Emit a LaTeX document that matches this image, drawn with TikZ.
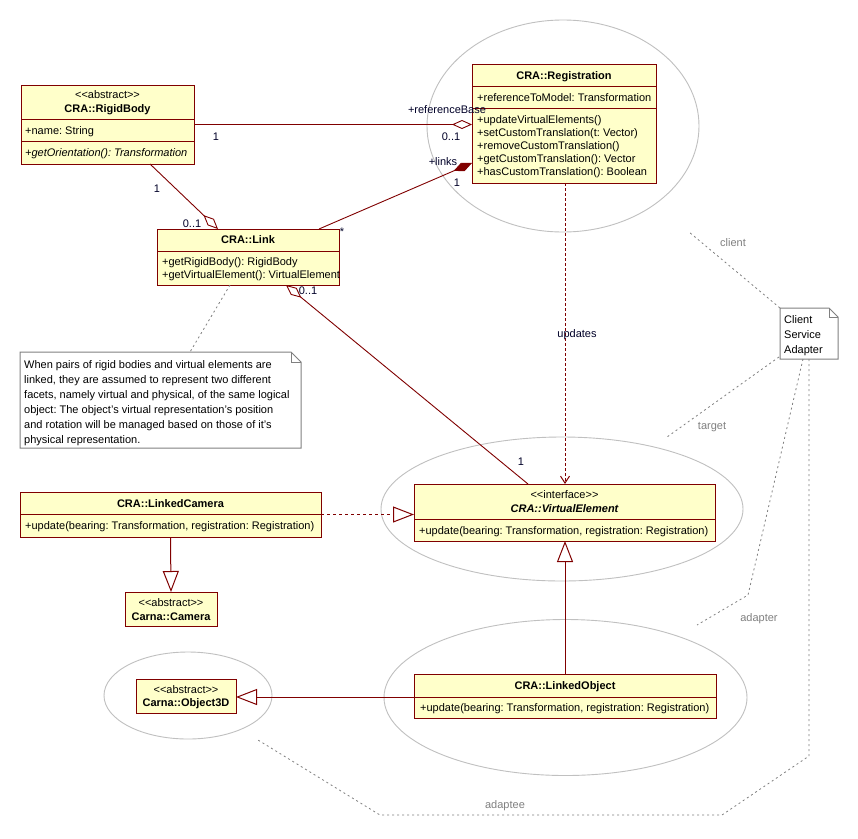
\documentclass[tikz,border=0pt]{standalone}
\usepackage{fontspec}
\setmainfont{Liberation Sans}
\usetikzlibrary{arrows.meta,calc}
\definecolor{umlred}{RGB}{128,0,0}
\definecolor{umlfill}{RGB}{255,255,202}
\definecolor{ellgrey}{RGB}{192,192,192}
\definecolor{notegrey}{RGB}{128,128,128}
\definecolor{rolegrey}{RGB}{128,128,128}
\definecolor{multcol}{RGB}{0,0,40}
\tikzset{
  aggrtip/.tip={Diamond[open, length=20pt, width=9pt]},
  comptip/.tip={Diamond[fill=umlred, length=20pt, width=9pt]}
}
\newcommand{\stereo}[1]{<{}<#1>{}>}
\frenchspacing
\begin{document}
\begin{tikzpicture}[x=1pt,y=-1pt,
  font=\fontsize{11}{13}\selectfont\frenchspacing,
  cls/.style={draw=umlred, fill=umlfill, line width=1pt, inner sep=0pt, outer sep=0pt, rectangle},
  sepline/.style={draw=umlred, line width=1pt},
  txt/.style={inner sep=0pt, anchor=base},
  ltxt/.style={inner sep=0pt, anchor=base west},
  lbl/.style={inner sep=0pt, anchor=center, text=multcol},
  rolelbl/.style={inner sep=0pt, anchor=center, text=rolegrey},
  assoc/.style={draw=umlred, line width=0.9pt},
  gen/.style={draw=umlred, line width=1pt, -{Triangle[open, length=21pt, width=16pt]}},
  real/.style={draw=umlred, line width=1pt, dash pattern=on 3pt off 3pt, -{Triangle[open, length=21pt, width=16pt]}},
  dep/.style={draw=umlred, line width=1pt, dash pattern=on 3pt off 2pt, -{Straight Barb[length=7pt, width=9pt]}},
  coll/.style={draw=ellgrey, line width=0.9pt},
  role/.style={draw=rolegrey, line width=0.8pt, dash pattern=on 2pt off 3pt},
  notebox/.style={inner sep=0pt, outer sep=0pt, rectangle, draw=none},
  noteline/.style={draw=notegrey, line width=1pt, fill=white}
]
\useasboundingbox (0,0) rectangle (858,838);
\fill[white] (0,0) rectangle (858,838);

% collaboration ellipses
\draw[coll] (563,126) ellipse [x radius=136, y radius=106];
\draw[coll] (562,509) ellipse [x radius=181, y radius=72];
\draw[coll] (565.5,697.5) ellipse [x radius=181.5, y radius=78];
\draw[coll] (188,695.5) ellipse [x radius=84, y radius=43.5];

% ---------- class boxes ----------
\node[cls, minimum width=173pt, minimum height=79pt] (rb) at (107.5,124.5) {};
\draw[sepline] (rb.west |- 0,119) -- (rb.east |- 0,119);
\draw[sepline] (rb.west |- 0,141) -- (rb.east |- 0,141);
\node[txt] (rbst) at (107.5,98.5) {\stereo{abstract}};
\node[txt] (rbname) at (107.5,112) {\bfseries CRA::RigidBody};
\node[ltxt] (rba1) at (25,134) {+name: String};
\node[ltxt] (rbm1) at (25,156) {\itshape +getOrientation(): Transformation};

\node[cls, minimum width=184pt, minimum height=119pt] (reg) at (564,123.5) {};
\draw[sepline] (reg.west |- 0,86) -- (reg.east |- 0,86);
\draw[sepline] (reg.west |- 0,108) -- (reg.east |- 0,108);
\node[txt] (regname) at (564,79) {\bfseries CRA::Registration};
\node[ltxt] (rega1) at (477,101) {+referenceToModel: Transformation};
\node[ltxt] (regm1) at (477,123) {+updateVirtualElements()};
\node[ltxt] (regm2) at (477,136) {+setCustomTranslation(t: Vector)};
\node[ltxt] (regm3) at (477,149) {+removeCustomTranslation()};
\node[ltxt] (regm4) at (477,162) {+getCustomTranslation(): Vector};
\node[ltxt] (regm5) at (477,175) {+hasCustomTranslation(): Boolean};

\node[cls, minimum width=182pt, minimum height=56pt] (lnk) at (248,257) {};
\draw[sepline] (lnk.west |- 0,251) -- (lnk.east |- 0,251);
\node[txt] (lnkname) at (248,243) {\bfseries CRA::Link};
\node[ltxt] (lnkm1) at (162,265) {+getRigidBody(): RigidBody};
\node[ltxt] (lnkm2) at (162,278) {+getVirtualElement(): VirtualElement};

\node[cls, minimum width=301pt, minimum height=57pt] (ve) at (564.5,512.5) {};
\draw[sepline] (ve.west |- 0,519) -- (ve.east |- 0,519);
\node[txt] (vest) at (564.5,498) {\stereo{interface}};
\node[txt] (vename) at (564.5,512) {\bfseries\itshape CRA::VirtualElement};
\node[ltxt] (vem1) at (419,534) {+update(bearing: Transformation, registration: Registration)};

\node[cls, minimum width=301pt, minimum height=45pt] (lc) at (170.5,514.5) {};
\draw[sepline] (lc.west |- 0,514) -- (lc.east |- 0,514);
\node[txt] (lcname) at (170.5,507) {\bfseries CRA::LinkedCamera};
\node[ltxt] (lcm1) at (25,529) {+update(bearing: Transformation, registration: Registration)};

\node[cls, minimum width=92pt, minimum height=34pt] (cam) at (171,609) {};
\node[txt] (camst) at (171,606) {\stereo{abstract}};
\node[txt] (camname) at (171,620) {\bfseries Carna::Camera};

\node[cls, minimum width=100pt, minimum height=34pt] (o3d) at (186,696) {};
\node[txt] (o3dst) at (186,693) {\stereo{abstract}};
\node[txt] (o3dname) at (186,706) {\bfseries Carna::Object3D};

\node[cls, minimum width=302pt, minimum height=44pt] (lo) at (565,696) {};
\draw[sepline] (lo.west |- 0,697) -- (lo.east |- 0,697);
\node[txt] (loname) at (565,689) {\bfseries CRA::LinkedObject};
\node[ltxt] (lom1) at (420,711) {+update(bearing: Transformation, registration: Registration)};

% ---------- notes ----------
\node[notebox, minimum width=281pt, minimum height=96pt] (n1) at (160.5,400) {};
\draw[noteline] (n1.north west) -- ($(n1.north east)+(-10,0)$) -- ($(n1.north east)+(0,10)$) -- (n1.south east) -- (n1.south west) -- cycle;
\draw[draw=notegrey, line width=1pt] ($(n1.north east)+(-10,0)$) -- ($(n1.north east)+(-10,10)$) -- ($(n1.north east)+(0,10)$);
\node[ltxt] (n1l1) at (24,368) {When pairs of rigid bodies and virtual elements are};
\node[ltxt] (n1l2) at (24,383) {linked, they are assumed to represent two different};
\node[ltxt] (n1l3) at (24,398) {facets, namely virtual and physical, of the same logical};
\node[ltxt] (n1l4) at (24,413) {object: The object's virtual representation's position};
\node[ltxt] (n1l5) at (24,428) {and rotation will be managed based on those of it's};
\node[ltxt] (n1l6) at (24,443) {physical representation.};

\node[notebox, minimum width=58pt, minimum height=51pt] (n2) at (809,333.5) {};
\draw[noteline] (n2.north west) -- ($(n2.north east)+(-9,0)$) -- ($(n2.north east)+(0,9)$) -- (n2.south east) -- (n2.south west) -- cycle;
\draw[draw=notegrey, line width=1pt] ($(n2.north east)+(-9,0)$) -- ($(n2.north east)+(-9,9)$) -- ($(n2.north east)+(0,9)$);
\node[ltxt] (n2l1) at (784,323) {Client};
\node[ltxt] (n2l2) at (784,338) {Service};
\node[ltxt] (n2l3) at (784,353) {Adapter};

% ---------- connectors ----------
\draw[assoc, -{aggrtip}] (rb.east) -- (reg.west |- rb.east);
\draw[assoc, -{aggrtip}] (rb.south -| 150,0) -- (lnk.north -| 218,0);
\draw[assoc, -{comptip}] (lnk.north -| 319,0) -- (reg.west |- 0,163);
\draw[assoc, {aggrtip}-] (lnk.south -| 286,0) -- (ve.north -| 528,0);
\draw[dep] (reg.south -| 565,0) -- (ve.north -| 565,0);
\draw[real] (lc.east) -- (ve.west |- lc.east);
\draw[gen] (lc.south) -- (cam.north);
\draw[gen] (lo.north) -- (ve.south -| lo.north);
\draw[gen] (lo.west |- 0,697) -- (o3d.east |- 0,697);

\draw[role] (lnk.south -| 230,0) -- (n1.north -| 190,0);

\coordinate (clientEnd) at (689,232);
\coordinate (targetEnd) at (667,437);
\coordinate (adapterBend) at (748,595);
\coordinate (adapterEnd) at (697,625);
\coordinate (adapteeA) at (809,756);
\coordinate (adapteeB) at (722,815);
\coordinate (adapteeC) at (380,815);
\coordinate (adapteeEnd) at (258,740);
\draw[role] (n2.north west) -- (clientEnd);
\draw[role] ($(n2.south west)+(-1,-2)$) -- (targetEnd);
\draw[role] (n2.south -| 803,0) -- (adapterBend) -- (adapterEnd);
\draw[role] (n2.south -| 809,0) -- (adapteeA) -- (adapteeB) -- (adapteeC) -- (adapteeEnd);

% ---------- labels ----------
\node[lbl] (m1) at (216,137) {1};
\node[lbl] (rbase) at (447,110) {+referenceBase};
\node[lbl] (m2) at (451,137) {0..1};
\node[lbl] (links) at (443,162) {+links};
\node[lbl] (m3) at (457,183) {1};
\node[lbl] (m4) at (342,232) {*};
\node[lbl] (m5) at (157,189) {1};
\node[lbl] (m6) at (192,224) {0..1};
\node[lbl] (m7) at (308,291) {0..1};
\node[lbl] (m8) at (521,462) {1};
\node[lbl] (upd) at (577,335) {updates};
\node[rolelbl] (rclient) at (733,243) {client};
\node[rolelbl] (rtarget) at (712,427) {target};
\node[rolelbl] (radapter) at (759,619) {adapter};
\node[rolelbl] (radaptee) at (505,806) {adaptee};
\end{tikzpicture}
\end{document}
